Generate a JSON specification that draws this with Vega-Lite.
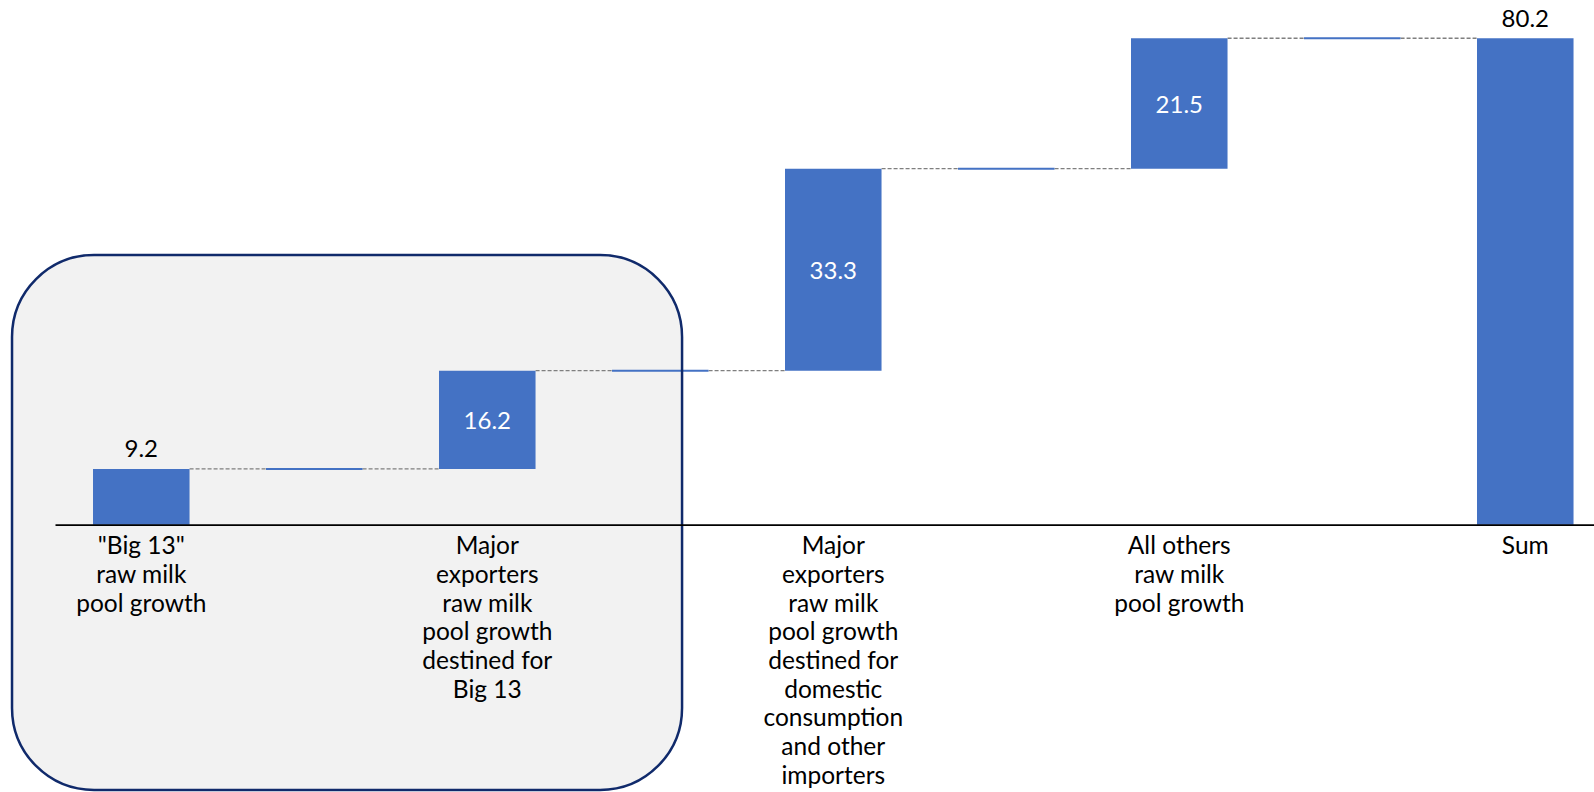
{
  "$schema": "https://vega.github.io/schema/vega-lite/v6.json",
  "width": 1539,
  "height": 524.7,
  "autosize": "none",
  "padding": {"left": 55, "top": 0, "right": 0, "bottom": 267.3},
  "background": "white",
  "config": {"view": {"stroke": null}, "font": "Lato", "text": {"font": "Lato"}},
  "resolve": {"scale": {"x": "independent"}},
  "layer": [
    {
      "data": {"values": [{}]},
      "mark": {"type": "rect", "cornerRadius": 82, "fill": "#F2F2F2", "strokeWidth": 0},
      "encoding": {
        "x": {"datum": -0.747, "type": "quantitative", "scale": {"domain": [-0.4986, 8.3974], "nice": false, "zero": false}, "axis": null},
        "x2": {"datum": 3.126},
        "y": {"datum": 44.47, "type": "quantitative", "scale": {"domain": [0, 86.51], "nice": false, "zero": false}, "axis": null},
        "y2": {"datum": -43.74}
      }
    },
    {
      "data": {
        "values": [
          {"step": "\"Big 13\"|raw milk|pool growth", "start": 0, "end": 9.2, "amount": 9.2, "next": "gap1"},
          {"step": "gap1", "start": 9.2, "end": 9.2, "amount": 0, "next": "Major|exporters|raw milk|pool growth|destined for|Big 13"},
          {"step": "Major|exporters|raw milk|pool growth|destined for|Big 13", "start": 9.2, "end": 25.4, "amount": 16.2, "next": "gap2"},
          {"step": "gap2", "start": 25.4, "end": 25.4, "amount": 0, "next": "Major|exporters|raw milk|pool growth|destined for|domestic|consumption|and other|importers"},
          {"step": "Major|exporters|raw milk|pool growth|destined for|domestic|consumption|and other|importers", "start": 25.4, "end": 58.7, "amount": 33.3, "next": "gap3"},
          {"step": "gap3", "start": 58.7, "end": 58.7, "amount": 0, "next": "All others|raw milk|pool growth"},
          {"step": "All others|raw milk|pool growth", "start": 58.7, "end": 80.2, "amount": 21.5, "next": "gap4"},
          {"step": "gap4", "start": 80.2, "end": 80.2, "amount": 0, "next": "Sum"},
          {"step": "Sum", "start": 0, "end": 80.2, "amount": 80.2, "next": null}
        ]
      },
      "encoding": {
        "x": {
          "field": "step",
          "type": "nominal",
          "scale": {
            "type": "band",
            "domain": [
              "\"Big 13\"|raw milk|pool growth",
              "gap1",
              "Major|exporters|raw milk|pool growth|destined for|Big 13",
              "gap2",
              "Major|exporters|raw milk|pool growth|destined for|domestic|consumption|and other|importers",
              "gap3",
              "All others|raw milk|pool growth",
              "gap4",
              "Sum"
            ],
            "paddingInner": 0.442,
            "paddingOuter": 0.169,
            "align": 0.65
          },
          "axis": {
            "title": null,
            "orient": "bottom",
            "zindex": 1,
            "grid": false,
            "domain": true,
            "domainColor": "#000000",
            "domainWidth": 1.75,
            "ticks": false,
            "tickSize": 0,
            "labelPadding": 10,
            "labelFont": "Lato",
            "labelFontSize": 24.5,
            "labelColor": "#000000",
            "labelLineHeight": 28.7,
            "labelAngle": 0,
            "labelAlign": "center",
            "labelBaseline": "top",
            "labelLimit": 400,
            "labelOverlap": false,
            "labelBound": false,
            "labelExpr": "indexof(datum.value, 'gap') == 0 ? '' : split(datum.value, '|')"
          }
        }
      },
      "layer": [
        {
          "transform": [{"filter": "datum.next != null"}],
          "mark": {"type": "rule", "color": "#7F7F7F", "strokeWidth": 1.3, "strokeDash": [4, 2], "xOffset": 48.3, "x2Offset": -48.3},
          "encoding": {
            "x2": {"field": "next"},
            "y": {"field": "end", "type": "quantitative", "scale": {"domain": [0, 86.51], "nice": false, "zero": false}, "axis": null}
          }
        },
        {
          "mark": {"type": "bar", "color": "#4472C4", "stroke": "#4472C4"},
          "encoding": {
            "y": {"field": "start", "type": "quantitative", "scale": {"domain": [0, 86.51], "nice": false, "zero": false}, "axis": null},
            "y2": {"field": "end"},
            "strokeWidth": {"condition": {"test": "datum.amount == 0", "value": 2}, "value": 0}
          }
        },
        {
          "transform": [{"filter": "datum.start == 0"}],
          "mark": {"type": "text", "baseline": "alphabetic", "dy": -11.5, "fontSize": 24, "font": "Lato", "color": "#000000"},
          "encoding": {
            "y": {"field": "end", "type": "quantitative", "scale": {"domain": [0, 86.51], "nice": false, "zero": false}, "axis": null},
            "text": {"field": "amount", "type": "quantitative", "format": ".1f"}
          }
        },
        {
          "transform": [
            {"filter": "datum.start > 0 && datum.amount > 0"},
            {"fold": ["start", "end"], "as": ["edge", "level"]}
          ],
          "mark": {"type": "text", "baseline": "middle", "dy": 2.5, "fontSize": 24, "font": "Lato", "color": "#FFFFFF"},
          "encoding": {
            "y": {"aggregate": "mean", "field": "level", "type": "quantitative", "scale": {"domain": [0, 86.51], "nice": false, "zero": false}, "axis": null},
            "text": {"field": "amount", "type": "quantitative", "format": ".1f"}
          }
        }
      ]
    },
    {
      "data": {"values": [{}]},
      "mark": {"type": "rect", "cornerRadius": 82, "fill": "#FFFFFF", "fillOpacity": 0, "stroke": "#102A6B", "strokeWidth": 2.5},
      "encoding": {
        "x": {"datum": -0.747, "type": "quantitative", "scale": {"domain": [-0.4986, 8.3974], "nice": false, "zero": false}, "axis": null},
        "x2": {"datum": 3.126},
        "y": {"datum": 44.47, "type": "quantitative", "scale": {"domain": [0, 86.51], "nice": false, "zero": false}, "axis": null},
        "y2": {"datum": -43.74}
      }
    }
  ]
}
